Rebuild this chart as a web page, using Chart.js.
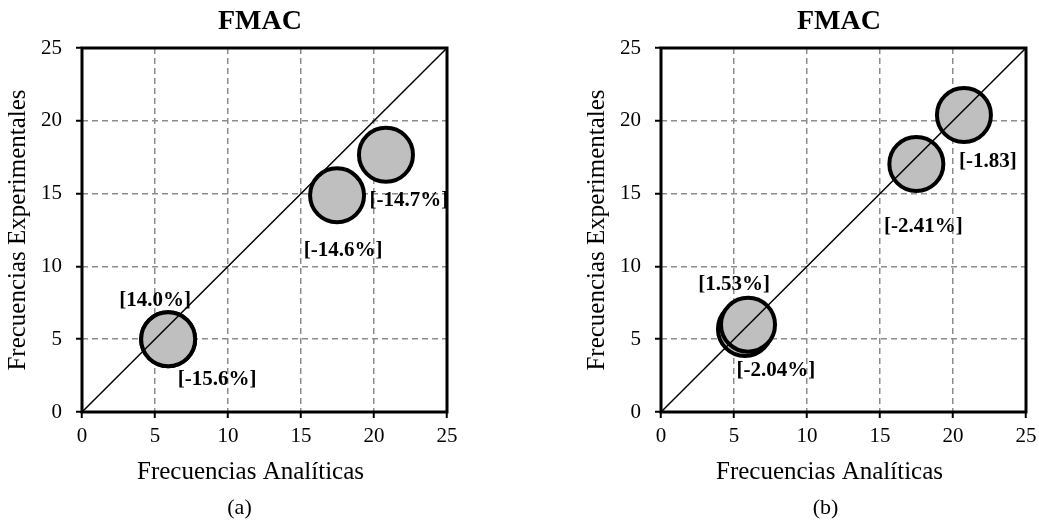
<!DOCTYPE html>
<html><head><meta charset="utf-8">
<script src="https://cdn.jsdelivr.net/npm/chart.js@4"></script>
<style>
html,body{margin:0;padding:0;background:#fff;overflow:hidden;width:1039px;height:524px;position:relative}
canvas{position:absolute;top:0}
#ca{left:0}
#cb{left:579px}
</style></head><body>
<canvas id="ca" width="520" height="524"></canvas>
<canvas id="cb" width="520" height="524"></canvas>
<script>
// ---- data ----
const chartTitle = 'FMAC';
const xAxisTitle = 'Frecuencias Analíticas';
const yAxisTitle = 'Frecuencias Experimentales';
const axisMin = 0;
const axisMax = 25;
const axisStep = 5;
const refLineX = [0, 25];
const refLineY = [0, 25];

// panel (a)
const aCaption = '(a)';
const aAnalytic = [5.9, 5.9, 17.47, 20.82];
const aExperimental = [5.0, 5.0, 14.88, 17.67];
const aLabels = ['[14.0%]', '[-15.6%]', '[-14.6%]', '[-14.7%]'];

// panel (b)
const bCaption = '(b)';
const bAnalytic = [5.75, 5.96, 17.49, 20.75];
const bExperimental = [5.7, 6.0, 17.03, 20.4];
const bLabels = ['[-2.04%]', '[1.53%]', '[-2.41%]', '[-1.83]'];

// ---- rendering ----
Chart.defaults.font.family = '"Liberation Serif", "Times New Roman", serif';
Chart.defaults.color = '#000';

const panelPlugin = {
  id: 'panelDecor',
  afterDatasetsDraw(chart, args, opts) {
    const {ctx, chartArea: a} = chart;
    const meta = chart.getDatasetMeta(1);
    ctx.save();
    ctx.beginPath();
    ctx.rect(a.left, a.top, a.right - a.left, a.bottom - a.top);
    ctx.clip();
    ctx.font = 'bold 21px "Liberation Serif"';
    ctx.fillStyle = '#000';
    ctx.textAlign = 'center';
    ctx.textBaseline = 'middle';
    opts.texts.forEach((t, i) => {
      const p = meta.data[i];
      const o = opts.offsets[i];
      ctx.fillText(t, p.x + o[0], p.y + o[1]);
    });
    ctx.restore();
    ctx.save();
    ctx.lineWidth = 3;
    ctx.strokeStyle = '#000';
    ctx.strokeRect(a.left, a.top, a.right - a.left, a.bottom - a.top);
    ctx.restore();
  },
  afterDraw(chart, args, opts) {
    const {ctx, chartArea: a} = chart;
    const cx = (a.left + a.right) / 2;
    ctx.save();
    ctx.fillStyle = '#000';
    ctx.textAlign = 'center';
    ctx.textBaseline = 'middle';
    ctx.font = 'bold 28px "Liberation Serif"';
    ctx.fillText(chartTitle, chart.width / 2, 22);
    ctx.font = '25px "Liberation Serif"';
    ctx.fillText(xAxisTitle, cx + opts.titleShift, 472);
    ctx.font = '22px "Liberation Serif"';
    ctx.fillText(opts.caption, cx + opts.captionShift, 508);
    ctx.restore();
  }
};

function makePanel(id, xs, ys, labels, caption, offsets, captionShift) {
  const pts = xs.map((x, i) => ({x: x, y: ys[i]}));
  const line = refLineX.map((x, i) => ({x: x, y: refLineY[i]}));
  const axis = (isX) => ({
    type: 'linear',
    min: axisMin, max: axisMax,
    ticks: {stepSize: axisStep, font: {size: 21}, padding: isX ? 6 : 14, color: '#000'},
    grid: {
      color: (c) => (c.tick && (c.tick.value === axisMin || c.tick.value === axisMax)) ? 'rgba(0,0,0,0)' : '#8c8c8c',
      lineWidth: 1.5,
      tickColor: '#000', tickWidth: 2, tickLength: 6, drawTicks: true
    },
    border: {display: false, dash: [6, 4]},
    title: isX ? {display: false} : {display: true, text: yAxisTitle, font: {size: 25}, padding: {top: 3, bottom: 0}, color: '#000'},
    afterFit: (s) => { if (isX) s.height = 112; else s.width = 82; }
  });
  return new Chart(document.getElementById(id), {
    type: 'scatter',
    data: {
      datasets: [
        {type: 'line', data: line, borderColor: '#000', borderWidth: 1.5, pointRadius: 0, fill: false, order: 0},
        {type: 'scatter', data: pts, backgroundColor: '#bfbfbf', borderColor: '#000', borderWidth: 4, pointRadius: 27, order: 1}
      ]
    },
    options: {
      responsive: false,
      animation: false,
      events: [],
      layout: {padding: {left: 0, right: 73, top: 48, bottom: 0}},
      scales: {x: axis(true), y: axis(false)},
      plugins: {
        legend: {display: false},
        tooltip: {enabled: false},
        title: {display: false},
        panelDecor: {texts: labels, offsets: offsets, caption: caption, titleShift: -14, captionShift: captionShift}
      }
    },
    plugins: [panelPlugin]
  });
}

makePanel('ca', aAnalytic, aExperimental, aLabels, aCaption,
  [[-13, -39], [49, 40], [6, 55], [23, 46]], -25);
makePanel('cb', bAnalytic, bExperimental, bLabels, bCaption,
  [[31, 42], [-14, -40], [7, 63], [24, 47]], -18);
</script>
</body></html>
